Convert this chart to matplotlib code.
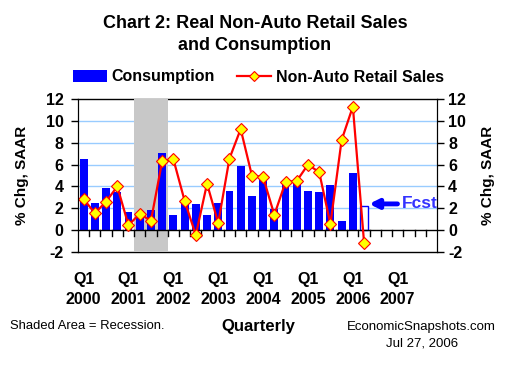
import matplotlib
matplotlib.use('Agg')
import matplotlib.pyplot as plt
from matplotlib.patches import Patch
from matplotlib.lines import Line2D

plt.rcParams['font.family'] = ['Liberation Sans', 'DejaVu Sans']

years = [2000, 2001, 2002, 2003, 2004, 2005, 2006, 2007]
quarters = [f"{y} Q{q}" for y in years for q in (1, 2, 3, 4)]
consumption = [6.5, 2.5, 3.9, 3.45, 1.7, 1.1, 1.8, 7.05, 1.4, 2.45, 2.35, 1.4,
               2.5, 3.6, 5.85, 3.1, 4.8, 1.9, 4.3, 4.3, 3.55, 3.45, 4.1, 0.85,
               5.2, 2.25]
retail = [2.85, 1.55, 2.6, 4.0, 0.45, 1.5, 0.85, 6.3, 6.5, 2.7, -0.45, 4.25,
          0.65, 6.55, 9.25, 5.0, 4.85, 1.4, 4.4, 4.5, 6.0, 5.3, 0.55, 8.25,
          11.3, -1.15]
recession = ("2001 Q2", "2001 Q4")
forecast_from = "2006 Q2"
yticks = [-2, 0, 2, 4, 6, 8, 10, 12]

W, H = 510, 365
fig = plt.figure(figsize=(W / 100, H / 100), dpi=100)
ax = fig.add_axes([78 / W, 1 - 252 / H, (437 - 78) / W, (252 - 99) / H])

n = len(quarters)
x = list(range(n))
nb = len(consumption)
fi = quarters.index(forecast_from)

ax.set_xlim(-0.5, n - 0.5)
ax.set_ylim(-2, 12)

# gridlines
for v in yticks:
    if v in (2, 4, 6, 8, 10):
        ax.axhline(v, color='#99CCFF', lw=1, zorder=0.2)
ax.axhline(12, color='black', lw=1, zorder=0.3, clip_on=False)
ax.axhline(-2, color='black', lw=1, zorder=0.3, clip_on=False)

# recession
r0 = quarters.index(recession[0]) - 0.5
r1 = quarters.index(recession[1]) + 0.5
ax.axvspan(r0, r1, color='#C8C8C8', lw=0, zorder=0.5)

# bars
bw = 0.7
ax.bar(x[:fi], consumption[:fi], width=bw, color='#0000FF', zorder=2)
ax.bar(x[fi:nb], consumption[fi:nb], width=bw, facecolor='white',
       edgecolor='#0000FF', lw=1, zorder=2)

# line
ax.plot(x[:len(retail)], retail, color='#FF0000', lw=1.6, marker='D',
        markersize=6.3, markerfacecolor='#FFFF00', markeredgecolor='#FF0000',
        markeredgewidth=0.8, zorder=4)

# spines and axes
for s in ('top', 'bottom'):
    ax.spines[s].set_visible(False)
ax.axhline(0, color='black', lw=1, zorder=3)
ax.tick_params(axis='x', which='both', length=0, labelbottom=False)
ax.set_xticks([])
for i in range(n - 1):
    ax.plot([i + 0.5, i + 0.5], [0, -0.5], color='black', lw=1, zorder=3)

tick_fs = 11.5
ax.set_yticks(yticks)
ax.set_yticklabels([str(v) for v in yticks], fontsize=tick_fs, fontweight='bold')
ax.tick_params(axis='y', direction='out', length=5, width=1, pad=5.5)

ax2 = ax.twinx()
ax2.set_ylim(-2, 12)
ax2.set_yticks(yticks)
ax2.set_yticklabels([str(v) for v in yticks], fontsize=tick_fs, fontweight='bold')
ax2.tick_params(axis='y', direction='out', length=5, width=1, pad=3)
for s in ('top', 'bottom'):
    ax2.spines[s].set_visible(False)

# x labels
tr = ax.get_xaxis_transform()
for yr in years:
    i = quarters.index(f"{yr} Q1")
    ax.text(i, -0.18, "Q1", transform=tr, ha='center', va='center',
            fontsize=11.5, fontweight='bold')
    ax.text(i, -0.31, str(yr), transform=tr, ha='center', va='center',
            fontsize=11.5, fontweight='bold')

# forecast annotation
ax.annotate('Fcst', xy=(fi + 0.45, consumption[fi] + 0.15),
            xytext=(fi + 3.35, consumption[fi] + 0.15),
            ha='left', va='center', fontsize=12.5, fontweight='bold',
            color='#3333FF',
            arrowprops=dict(arrowstyle='-|>', color='#0000FF', lw=3.5,
                            mutation_scale=13, shrinkA=1, shrinkB=0),
            zorder=5)

# titles
fig.text(0.5, 1 - 23 / H, "Chart 2: Real Non-Auto Retail Sales",
         ha='center', va='center', fontsize=13, fontweight='bold')
fig.text(0.5, 1 - 45 / H, "and Consumption",
         ha='center', va='center', fontsize=13, fontweight='bold')

# y labels
fig.text(22 / W, 1 - 175.5 / H, "% Chg, SAAR", rotation=90, ha='center',
         va='center', fontsize=11, fontweight='bold')
fig.text(488 / W, 1 - 175.5 / H, "% Chg, SAAR", rotation=90, ha='center',
         va='center', fontsize=11, fontweight='bold')

# legend
handles = [Patch(facecolor='#0000FF', edgecolor='none'),
           Line2D([0], [0], color='#FF0000', lw=1.6, marker='D',
                  markersize=5.5, markerfacecolor='#FFFF00',
                  markeredgecolor='#FF0000', markeredgewidth=0.8)]
fig.legend(handles, ["Consumption", "Non-Auto Retail Sales"], ncol=2,
           loc='center', bbox_to_anchor=(258.5 / W, 1 - 77 / H),
           frameon=False, handlelength=2.1, handleheight=0.75,
           handletextpad=0.3, columnspacing=1.4,
           prop=dict(size=11.5, weight='bold'), borderpad=0, borderaxespad=0)

# footer
fig.text(10 / W, 1 - 326 / H, "Shaded Area = Recession.", ha='left',
         va='center', fontsize=9.4)
fig.text(258 / W, 1 - 327 / H, "Quarterly", ha='center', va='center',
         fontsize=12, fontweight='bold')
fig.text(496 / W, 1 - 327 / H, "EconomicSnapshots.com", ha='right',
         va='center', fontsize=9.5)
fig.text(422 / W, 1 - 343 / H, "Jul 27, 2006", ha='center', va='center',
         fontsize=9.5)

fig.savefig('out.png', dpi=100)
